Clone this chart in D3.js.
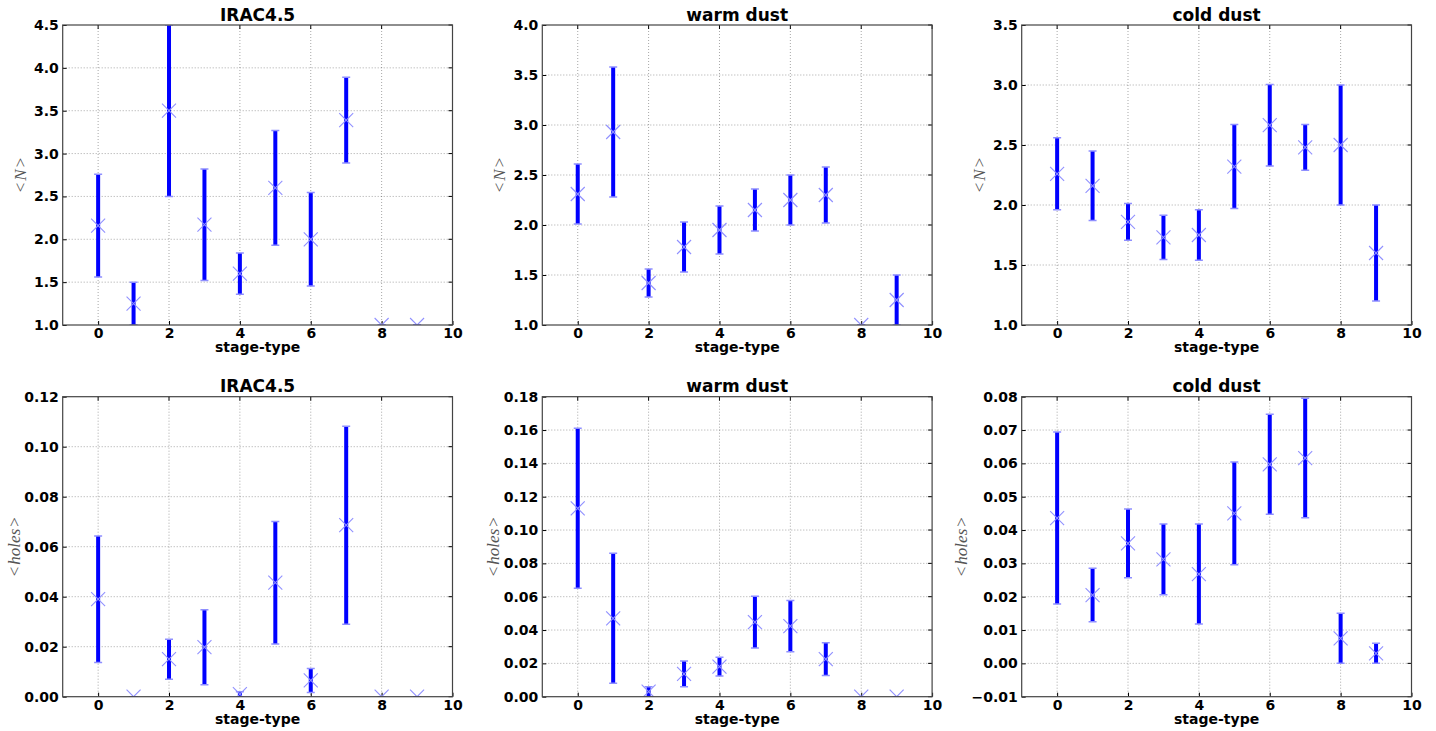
<!DOCTYPE html>
<html>
<head>
<meta charset="utf-8">
<script src="https://cdn.jsdelivr.net/npm/d3@7"></script>
<style>
  html, body { margin: 0; padding: 0; background: #fff; }
  svg { display: block; }
  .tick-label { font-family: "DejaVu Sans", sans-serif; font-weight: bold; font-size: 14px; fill: #000; }
  .title { font-family: "DejaVu Sans", sans-serif; font-weight: bold; font-size: 17px; fill: #000; }
  .xlabel { font-family: "DejaVu Sans", sans-serif; font-weight: bold; font-size: 14px; fill: #000; }
  .ylabel { font-family: "Liberation Serif", serif; font-size: 17px; fill: #555; }
</style>
</head>
<body>
<svg id="chart" width="1436" height="731"></svg>
<script>
// ---------------- data ----------------
const stages = [0, 1, 2, 3, 4, 5, 6, 7, 8, 9];
const xTicks = [0, 2, 4, 6, 8, 10];

const iracNMean = [2.16, 1.25, 3.5, 2.17, 1.6, 2.6, 2.0, 3.39, 1.0, 1.0];
const iracNErr  = [0.6, 0.25, 1.0, 0.65, 0.24, 0.67, 0.545, 0.5, 0, 0];
const warmNMean = [2.31, 2.93, 1.42, 1.78, 1.95, 2.15, 2.25, 2.3, 1.0, 1.25];
const warmNErr  = [0.3, 0.65, 0.14, 0.25, 0.24, 0.21, 0.25, 0.28, 0, 0.25];
const coldNMean = [2.26, 2.16, 1.86, 1.73, 1.75, 2.32, 2.665, 2.48, 2.5, 1.6];
const coldNErr  = [0.3, 0.29, 0.153, 0.185, 0.21, 0.35, 0.34, 0.19, 0.5, 0.4];

const iracHMean = [0.039, 0, 0.015, 0.0198, 0.001, 0.0456, 0.0065, 0.0686, 0, 0];
const iracHErr  = [0.0253, 0, 0.008, 0.015, 0.001, 0.0245, 0.0048, 0.0396, 0, 0];
const warmHMean = [0.113, 0.047, 0.003, 0.0137, 0.018, 0.0447, 0.0423, 0.0225, 0, 0];
const warmHErr  = [0.048, 0.039, 0.003, 0.0077, 0.0056, 0.0155, 0.0154, 0.0098, 0, 0];
const coldHMean = [0.0436, 0.0205, 0.036, 0.0312, 0.0268, 0.045, 0.0597, 0.0616, 0.0075, 0.003];
const coldHErr  = [0.0258, 0.008, 0.0103, 0.0106, 0.015, 0.0154, 0.015, 0.0179, 0.0075, 0.003];

const titles = ["IRAC4.5", "warm dust", "cold dust"];
const nTicksIrac = [1.0, 1.5, 2.0, 2.5, 3.0, 3.5, 4.0, 4.5];
const nTicksWarm = [1.0, 1.5, 2.0, 2.5, 3.0, 3.5, 4.0];
const nTicksCold = [1.0, 1.5, 2.0, 2.5, 3.0, 3.5];
const hTicksIrac = [0.00, 0.02, 0.04, 0.06, 0.08, 0.10, 0.12];
const hTicksWarm = [0.00, 0.02, 0.04, 0.06, 0.08, 0.10, 0.12, 0.14, 0.16, 0.18];
const hTicksCold = [-0.01, 0.00, 0.01, 0.02, 0.03, 0.04, 0.05, 0.06, 0.07, 0.08];

const panels = [
  { row: 0, col: 0, title: titles[0], mean: iracNMean, err: iracNErr, ticks: nTicksIrac, fmt: ".1f", label: "N" },
  { row: 0, col: 1, title: titles[1], mean: warmNMean, err: warmNErr, ticks: nTicksWarm, fmt: ".1f", label: "N" },
  { row: 0, col: 2, title: titles[2], mean: coldNMean, err: coldNErr, ticks: nTicksCold, fmt: ".1f", label: "N" },
  { row: 1, col: 0, title: titles[0], mean: iracHMean, err: iracHErr, ticks: hTicksIrac, fmt: ".2f", label: "holes" },
  { row: 1, col: 1, title: titles[1], mean: warmHMean, err: warmHErr, ticks: hTicksWarm, fmt: ".2f", label: "holes" },
  { row: 1, col: 2, title: titles[2], mean: coldHMean, err: coldHErr, ticks: hTicksCold, fmt: ".2f", label: "holes" }
];

// ---------------- layout ----------------
const colLeft = [62.7, 542.3, 1021.7];
const rowTop = [25, 396.7];
const labelGap = [8, 4.5];
const pw = 389.8, ph = 300;

const svg = d3.select("#chart");
const blue = "#0000ff";
const light = "#8f8fff";

panels.forEach((p, i) => {
  const g = svg.append("g").attr("transform", `translate(${colLeft[p.col]},${rowTop[p.row]})`);
  const x = d3.scaleLinear().domain([-1, 10]).range([0, pw]);
  const y = d3.scaleLinear().domain([p.ticks[0], p.ticks[p.ticks.length - 1]]).range([ph, 0]);
  const f = d3.format(p.fmt);

  const cid = "clip" + i;
  g.append("clipPath").attr("id", cid).append("rect").attr("width", pw).attr("height", ph);

  // grid
  const grid = g.append("g");
  grid.selectAll("line.gx").data(xTicks.slice(0, -1)).join("line")
    .attr("x1", d => x(d)).attr("x2", d => x(d)).attr("y1", 0).attr("y2", ph)
    .attr("stroke", "#000").attr("stroke-opacity", 0.35).attr("stroke-width", 1).attr("stroke-dasharray", "1,2");
  grid.selectAll("line.gy").data(p.ticks.slice(1, -1)).join("line")
    .attr("x1", 0).attr("x2", pw).attr("y1", d => y(d)).attr("y2", d => y(d))
    .attr("stroke", "#000").attr("stroke-opacity", 0.35).attr("stroke-width", 1).attr("stroke-dasharray", "1,2");

  // axes with inward ticks
  const xAxis = d3.axisBottom(x).tickValues(xTicks).tickFormat(d3.format("d")).tickSizeInner(-4).tickSizeOuter(0).tickPadding(3);
  const yAxis = d3.axisLeft(y).tickValues(p.ticks).tickFormat(d => f(d).replace("-", "\u2212")).tickSizeInner(-4).tickSizeOuter(0).tickPadding(4);
  const gx = g.append("g").attr("transform", `translate(0,${ph})`).call(xAxis);
  const gy = g.append("g").call(yAxis);
  [gx, gy].forEach(a => {
    a.select(".domain").remove();
    a.selectAll(".tick line").attr("stroke", "#000");
    a.selectAll(".tick text").attr("class", "tick-label");
  });
  g.append("g").selectAll("line").data(xTicks).join("line")
    .attr("x1", d => x(d)).attr("x2", d => x(d)).attr("y1", 0).attr("y2", 4).attr("stroke", "#000");
  g.append("g").selectAll("line").data(p.ticks).join("line")
    .attr("x1", pw).attr("x2", pw - 4).attr("y1", d => y(d)).attr("y2", d => y(d)).attr("stroke", "#000");

  // error bars
  const data = stages.map((s, k) => ({ s, m: p.mean[k], e: p.err[k] }));
  const marks = g.append("g").attr("clip-path", `url(#${cid})`);
  marks.selectAll("line.bar").data(data).join("line")
    .attr("x1", d => x(d.s)).attr("x2", d => x(d.s))
    .attr("y1", d => y(d.m - d.e)).attr("y2", d => y(d.m + d.e))
    .attr("stroke", blue).attr("stroke-width", 4);
  ["lo", "hi"].forEach(side => {
    marks.selectAll("line.cap" + side).data(data).join("line")
      .attr("x1", d => x(d.s) - 4).attr("x2", d => x(d.s) + 4)
      .attr("y1", d => y(side === "lo" ? d.m - d.e : d.m + d.e))
      .attr("y2", d => y(side === "lo" ? d.m - d.e : d.m + d.e))
      .attr("stroke", light).attr("stroke-width", 1.5);
  });
  // x markers
  const ms = 7;
  const mk = marks.selectAll("g.mk").data(data).join("g")
    .attr("transform", d => `translate(${x(d.s)},${y(d.m)})`);
  mk.append("line").attr("x1", -ms).attr("y1", -ms).attr("x2", ms).attr("y2", ms)
    .attr("stroke", light).attr("stroke-width", 1.1);
  mk.append("line").attr("x1", -ms).attr("y1", ms).attr("x2", ms).attr("y2", -ms)
    .attr("stroke", light).attr("stroke-width", 1.1);

  // frame
  g.append("rect").attr("width", pw).attr("height", ph)
    .attr("fill", "none").attr("stroke", "#444").attr("stroke-width", 1.2);

  // title
  g.append("text").attr("class", "title").attr("x", pw / 2).attr("y", -4.5)
    .attr("text-anchor", "middle").text(p.title);

  // x label
  g.append("text").attr("class", "xlabel").attr("x", pw / 2).attr("y", ph + 27)
    .attr("text-anchor", "middle").text("stage-type");

  // y label
  const bb = gy.node().getBBox();
  const lx = bb.x - labelGap[p.row];
  const yl = g.append("text").attr("class", "ylabel")
    .attr("transform", `translate(${lx},${ph / 2}) rotate(-90)`)
    .attr("text-anchor", "middle");
  yl.append("tspan").text("<");
  yl.append("tspan").attr("dx", 2).attr("font-style", "italic").text(p.label);
  yl.append("tspan").attr("dx", 2).text(">");
});
</script>
</body>
</html>
